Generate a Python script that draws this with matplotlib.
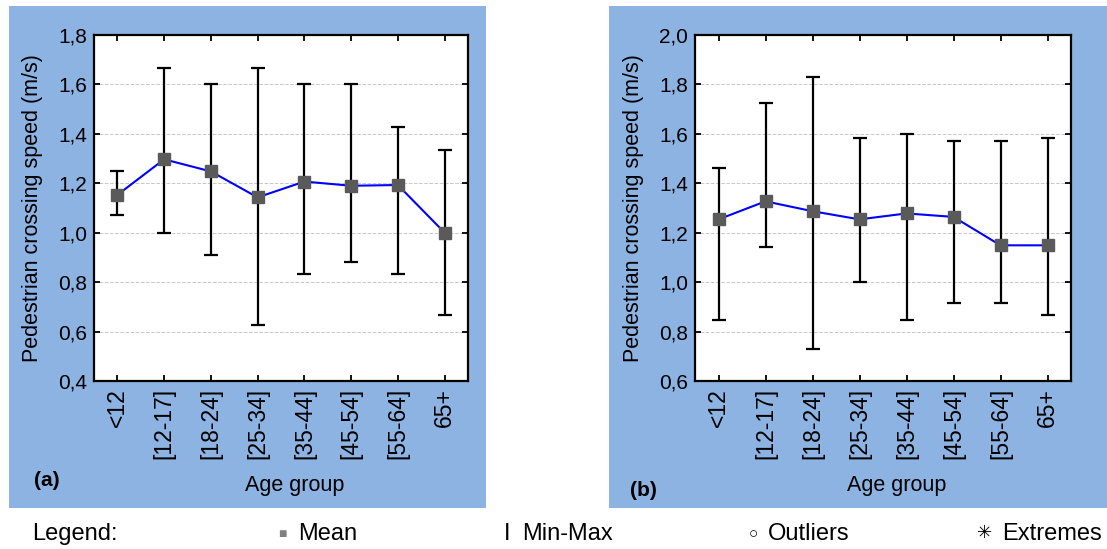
import matplotlib
matplotlib.use("Agg")
import matplotlib.pyplot as plt
from matplotlib.patches import Rectangle
from matplotlib.ticker import FuncFormatter, MultipleLocator

plt.rcParams['font.family'] = ['Liberation Sans', 'DejaVu Sans']

# ================= DATA =================

age_groups = ["<12", "[12-17]", "[18-24]", "[25-34]", "[35-44]", "[45-54]", "[55-64]", "65+"]

mean_a = [1.153, 1.297, 1.248, 1.143, 1.207, 1.190, 1.193, 1.000]
max_a = [1.250, 1.667, 1.600, 1.667, 1.600, 1.600, 1.428, 1.333]
min_a = [1.072, 1.000, 0.908, 0.625, 0.833, 0.883, 0.833, 0.667]

mean_b = [1.254, 1.327, 1.287, 1.254, 1.278, 1.264, 1.149, 1.149]
max_b = [1.460, 1.724, 1.830, 1.585, 1.600, 1.570, 1.570, 1.585]
min_b = [0.847, 1.142, 0.728, 1.000, 0.847, 0.917, 0.917, 0.866]

# ================= FIGURE =================

W, H = 1107, 549
fig = plt.figure(figsize=(W / 100, H / 100), dpi=100)

blue = "#8DB3E2"
FS = 14.5


def px_rect(x0, y0, x1, y1):
    # pixel box (top-left origin) -> figure fraction
    return [x0 / W, 1 - y1 / H, (x1 - x0) / W, (y1 - y0) / H]


for box in [(9, 6, 486, 508), (609, 6, 1107, 508)]:
    r = px_rect(*box)
    fig.patches.append(Rectangle((r[0], r[1]), r[2], r[3], transform=fig.transFigure,
                                 facecolor=blue, edgecolor="none", zorder=-5))

comma = FuncFormatter(lambda v, p: f"{v:.1f}".replace(".", ","))


def draw_panel(rect, means, mins, maxs, ylim):
    ax = fig.add_axes(px_rect(*rect))
    ax.set_facecolor("white")
    x = list(range(len(age_groups)))
    lo = [m - a for m, a in zip(means, mins)]
    hi = [b - m for m, b in zip(means, maxs)]
    ax.errorbar(x, means, yerr=[lo, hi], fmt="none", ecolor="black",
                elinewidth=1.6, capsize=5, capthick=1.6, zorder=2)
    ax.plot(x, means, color="#0000FF", lw=1.5, zorder=3)
    ax.plot(x, means, ls="none", marker="s", ms=8, color="#5A5A5A", zorder=4)
    ax.set_xlim(-0.5, 7.5)
    ax.set_ylim(*ylim)
    ax.yaxis.set_major_locator(MultipleLocator(0.2))
    ax.yaxis.set_major_formatter(comma)
    ax.set_xticks(x)
    ax.set_xticklabels(age_groups, rotation=90, fontsize=16.5)
    ax.tick_params(axis="y", labelsize=FS + 0.5)
    ax.tick_params(direction="in", length=4, width=1.3, top=True, right=True, pad=5)
    ax.grid(axis="y", color="#C8C8C8", ls="--", lw=0.7)
    for s in ax.spines.values():
        s.set_linewidth(1.6)
    return ax


ax_a = draw_panel((94, 35, 468, 381), mean_a, min_a, max_a, (0.4, 1.8))
ax_b = draw_panel((695, 35, 1071, 381), mean_b, min_b, max_b, (0.6, 2.0))

# axis titles
fig.text(33 / W, 1 - 208 / H, "Pedestrian crossing speed (m/s)", rotation=90,
         ha="center", va="center", fontsize=15.5)
fig.text(634 / W, 1 - 208 / H, "Pedestrian crossing speed (m/s)", rotation=90,
         ha="center", va="center", fontsize=15.5)
fig.text(295 / W, 1 - 486 / H, "Age group", ha="center", va="center", fontsize=15.5)
fig.text(897 / W, 1 - 486 / H, "Age group", ha="center", va="center", fontsize=15.5)

fig.text(34 / W, 1 - 481 / H, "(a)", ha="left", va="center", fontsize=FS + 0.5, fontweight="bold")
fig.text(630 / W, 1 - 490 / H, "(b)", ha="left", va="center", fontsize=FS + 0.5, fontweight="bold")

# ================= LEGEND ROW =================

ly = 1 - 534 / H
LFS = 17
fig.text(32 / W, ly, "Legend:", ha="left", va="center", fontsize=LFS)
fig.text(278 / W, ly, "■", ha="left", va="center", fontsize=10, color="#808080")
fig.text(298 / W, ly, "Mean", ha="left", va="center", fontsize=LFS)
fig.text(504 / W, ly, "I", ha="left", va="center", fontsize=LFS)
fig.text(522 / W, ly, "Min-Max", ha="left", va="center", fontsize=LFS)
fig.text(749 / W, ly, "○", ha="left", va="center", fontsize=11)
fig.text(768 / W, ly, "Outliers", ha="left", va="center", fontsize=LFS)
fig.text(977 / W, ly, "✳", ha="left", va="center", fontsize=13)
fig.text(1002 / W, ly, "Extremes", ha="left", va="center", fontsize=LFS)

fig.savefig("out.png", dpi=100)
